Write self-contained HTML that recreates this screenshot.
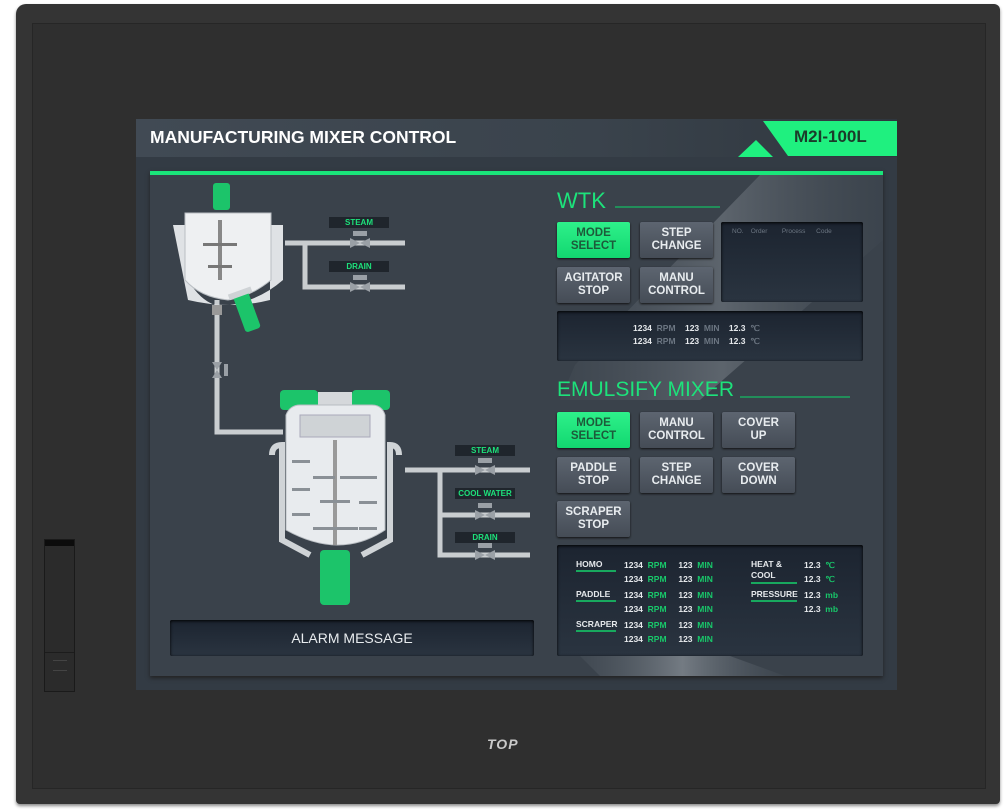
<!DOCTYPE html>
<html><head><meta charset="utf-8"><style>
body{margin:0;width:1008px;height:812px;background:#fff;position:relative;overflow:hidden;font-family:"Liberation Sans",sans-serif}
.a{position:absolute}
.btn{position:absolute;width:73px;height:36px;border-radius:2px;background:linear-gradient(#5d6570,#454c56);color:#e8ecef;font-size:11.5px;font-weight:bold;text-align:center;line-height:13px;display:flex;align-items:center;justify-content:center;box-shadow:0 1px 2px #111}
.btn.g{background:linear-gradient(#2ef08a,#12d870);color:#1d5a3a}
.box{position:absolute;background:linear-gradient(#1c2430,#2a3440);border-radius:2px;box-shadow:inset 0 1px 3px #000}
.t{position:absolute;font-size:8.5px;font-weight:bold;color:#e6e9ec;white-space:nowrap}
.gr{color:#18c86a}.dm{color:#6c7682}
.ul{position:absolute;height:2px;background:#18a85e}
.lab{position:absolute;background:#1f252c;color:#1de27b;font-size:8px;font-weight:bold;text-align:center;height:11px;line-height:11px}
</style></head><body>
<div class="a" style="left:16px;top:4px;width:984px;height:800px;background:#343434;border-radius:10px 6px 4px 4px;box-shadow:0 2px 3px #888"></div>
<div class="a" style="left:32px;top:23px;width:952px;height:764px;background:#2f2f2f;border:1px solid #262626"></div>
<div class="a" style="left:44px;top:539px;width:29px;height:151px;background:#2b2b2b;border:1px solid #1a1a1a"><div style="height:6px;background:#0c0c0c"></div><div style="position:absolute;top:112px;left:0;right:0;border-top:1px solid #1c1c1c"></div><div style="position:absolute;top:120px;left:8px;width:14px;border-top:1px solid #444"></div><div style="position:absolute;top:130px;left:8px;width:14px;border-top:1px solid #444"></div></div>
<div class="a" style="left:487px;top:736px;color:#c9c9c9;font-weight:bold;font-style:italic;font-size:14px;letter-spacing:1px">TOP</div>
<div class="a" style="left:136px;top:119px;width:761px;height:571px;background:#333b44"></div>
<div class="a" style="left:136px;top:119px;width:761px;height:38px;background:linear-gradient(90deg,#414a54,#3a434c 60%,#2f363e)"></div>
<div class="a" style="left:150px;top:127px;color:#fff;font-size:17.5px;font-weight:bold">MANUFACTURING MIXER CONTROL</div>
<svg class="a" style="left:0;top:0" width="1008" height="812">
<polygon points="763,121 897,121 897,156 788,156" fill="#1ff07f"/>
<polygon points="738,157 756,140 773,157" fill="#1ff07f"/>
</svg>
<div class="a" style="left:794px;top:127px;font-size:17px;font-weight:bold;color:#1b3b2a">M2I-100L</div>
<div class="a" style="left:150px;top:171px;width:733px;height:505px;background:#3a424b;box-shadow:0 2px 4px #222"></div>
<div class="a" style="left:150px;top:171px;width:733px;height:4px;background:#1ae57a"></div>
<svg class="a" style="left:0;top:0" width="1008" height="812">
<defs><linearGradient id="dg" x1="0" y1="0" x2="1" y2="0"><stop offset="0" stop-color="#5a636c" stop-opacity=".2"/><stop offset=".5" stop-color="#9aa1a8" stop-opacity=".6"/><stop offset="1" stop-color="#5a636c" stop-opacity=".1"/></linearGradient></defs>
<polygon points="760,175 883,175 883,240 700,400 560,400 575,365" fill="url(#dg)" opacity=".6"/>
<polygon points="580,656 730,656 785,676 600,676" fill="url(#dg)"/>
<g stroke="#c9cdd0" stroke-width="5" fill="none">
<path d="M285,243 H405"/><path d="M305,243 V287 H405"/>
<path d="M217,300 V432 H283"/>
<path d="M405,470 H530"/><path d="M440,470 V555 H530"/><path d="M440,515 H530"/>
</g>
<g fill="#9aa0a6">
<polygon points="350,238 370,248 370,238 350,248"/><rect x="353" y="231" width="14" height="5"/>
<polygon points="350,282 370,292 370,282 350,292"/><rect x="353" y="275" width="14" height="5"/>
<polygon points="475,465 495,475 495,465 475,475"/><rect x="478" y="458" width="14" height="5"/>
<polygon points="475,510 495,520 495,510 475,520"/><rect x="478" y="503" width="14" height="5"/>
<polygon points="475,550 495,560 495,550 475,560"/><rect x="478" y="543" width="14" height="5"/>
<polygon points="212,362 222,362 212,378 222,378"/><rect x="224" y="364" width="4" height="12"/>
</g>
<path d="M173,225 H188 V280 Q200,300 215,305 L230,305 Q260,300 283,280 V225 H270 V300 Q230,310 188,300 Z" fill="#dfe2e5"/>
<path d="M185,213 H271 V280 Q250,297 228,300 Q200,297 185,280 Z" fill="#eef0f2" stroke="#b9bec3"/>
<rect x="218" y="220" width="4" height="60" fill="#888"/>
<rect x="203" y="243" width="34" height="3" fill="#777"/><rect x="208" y="265" width="24" height="3" fill="#777"/>
<rect x="213" y="183" width="17" height="27" rx="3" fill="#1cc46a"/>
<rect x="212" y="305" width="10" height="10" fill="#999"/>
<g transform="rotate(-20 248 315)"><rect x="240" y="293" width="16" height="38" rx="3" fill="#1cc46a"/><rect x="236" y="289" width="24" height="6" fill="#cfd3d6"/></g>
<rect x="280" y="390" width="38" height="20" rx="4" fill="#1cc46a"/><rect x="352" y="390" width="38" height="20" rx="4" fill="#1cc46a"/>
<rect x="318" y="392" width="34" height="16" fill="#d5d8db"/>
<path d="M286,415 Q290,405 300,405 H372 Q382,405 385,415 V530 Q340,560 286,530 Z" fill="#e8ebee" stroke="#b8bdc2"/>
<rect x="300" y="415" width="70" height="22" fill="#cfd3d6" stroke="#aab"/>
<path d="M272,455 Q272,445 282,445 V540 L310,555" stroke="#d0d4d7" stroke-width="6" fill="none"/>
<path d="M399,455 Q399,445 390,445 V540 L362,555" stroke="#d0d4d7" stroke-width="6" fill="none"/>
<rect x="333" y="440" width="4" height="105" fill="#999"/>
<g fill="#8a9096"><rect x="292" y="460" width="18" height="3"/><rect x="292" y="488" width="18" height="3"/><rect x="292" y="513" width="18" height="3"/><rect x="313" y="476" width="22" height="3"/><rect x="340" y="476" width="20" height="3"/><rect x="359" y="476" width="18" height="3"/><rect x="320" y="500" width="30" height="3"/><rect x="359" y="501" width="18" height="3"/><rect x="313" y="527" width="45" height="3"/><rect x="359" y="527" width="18" height="3"/></g>
<rect x="320" y="550" width="30" height="55" rx="4" fill="#1cc46a"/>
<line x1="615" y1="207" x2="720" y2="207" stroke="#1aa860" stroke-width="1.5"/>
<line x1="740" y1="397" x2="850" y2="397" stroke="#1aa860" stroke-width="1.5"/>
</svg>
<div class="lab" style="left:329px;top:217px;width:60px">STEAM</div>
<div class="lab" style="left:329px;top:261px;width:60px">DRAIN</div>
<div class="lab" style="left:455px;top:445px;width:60px">STEAM</div>
<div class="lab" style="left:455px;top:488px;width:60px">COOL WATER</div>
<div class="lab" style="left:455px;top:532px;width:60px">DRAIN</div>
<div class="box" style="left:170px;top:620px;width:364px;height:36px;color:#e8ecef;font-size:14px;text-align:center;line-height:36px">ALARM MESSAGE</div>
<div class="a" style="left:557px;top:188px;color:#1de27b;font-size:22px">WTK</div>
<div class="a" style="left:557px;top:378px;color:#1de27b;font-size:21px">EMULSIFY MIXER</div>
<div class="btn g" style="left:557px;top:222px">MODE<br>SELECT</div>
<div class="btn" style="left:640px;top:222px">STEP<br>CHANGE</div>
<div class="btn" style="left:557px;top:267px">AGITATOR<br>STOP</div>
<div class="btn" style="left:640px;top:267px">MANU<br>CONTROL</div>
<div class="box" style="left:721px;top:222px;width:142px;height:80px"><div class="t dm" style="left:11px;top:6px;font-size:6.5px;font-weight:normal">NO.&nbsp;&nbsp;&nbsp;&nbsp;Order&nbsp;&nbsp;&nbsp;&nbsp;&nbsp;&nbsp;&nbsp;&nbsp;Process&nbsp;&nbsp;&nbsp;&nbsp;&nbsp;&nbsp;Code</div></div>
<div class="box" style="left:557px;top:311px;width:306px;height:50px">
<div class="t" style="left:76px;top:12px">1234 <span class="dm">&nbsp;RPM</span>&nbsp;&nbsp;&nbsp;&nbsp;123 <span class="dm">&nbsp;MIN</span>&nbsp;&nbsp;&nbsp;&nbsp;12.3 <span class="dm">&nbsp;℃</span></div>
<div class="t" style="left:76px;top:25px">1234 <span class="dm">&nbsp;RPM</span>&nbsp;&nbsp;&nbsp;&nbsp;123 <span class="dm">&nbsp;MIN</span>&nbsp;&nbsp;&nbsp;&nbsp;12.3 <span class="dm">&nbsp;℃</span></div></div>
<div class="btn g" style="left:557px;top:412px">MODE<br>SELECT</div>
<div class="btn" style="left:640px;top:412px">MANU<br>CONTROL</div>
<div class="btn" style="left:722px;top:412px">COVER<br>UP</div>
<div class="btn" style="left:557px;top:457px">PADDLE<br>STOP</div>
<div class="btn" style="left:640px;top:457px">STEP<br>CHANGE</div>
<div class="btn" style="left:722px;top:457px">COVER<br>DOWN</div>
<div class="btn" style="left:557px;top:501px">SCRAPER<br>STOP</div>
<div class="box" style="left:557px;top:545px;width:306px;height:111px"></div>
<div class="ul" style="left:576px;top:570px;width:40px"></div>
<div class="ul" style="left:576px;top:600px;width:40px"></div>
<div class="ul" style="left:576px;top:630px;width:40px"></div>
<div class="ul" style="left:751px;top:582px;width:46px"></div>
<div class="ul" style="left:751px;top:600px;width:46px"></div>
<div class="t" style="left:576px;top:559px">HOMO</div><div class="t" style="left:576px;top:589px">PADDLE</div><div class="t" style="left:576px;top:619px">SCRAPER</div>
<div class="t" style="left:624px;top:559px;line-height:13.5px">1234 <span class="gr">&nbsp;RPM</span>&nbsp;&nbsp;&nbsp;&nbsp;&nbsp;123 <span class="gr">&nbsp;MIN</span><br>1234 <span class="gr">&nbsp;RPM</span>&nbsp;&nbsp;&nbsp;&nbsp;&nbsp;123 <span class="gr">&nbsp;MIN</span></div>
<div class="t" style="left:624px;top:589px;line-height:13.5px">1234 <span class="gr">&nbsp;RPM</span>&nbsp;&nbsp;&nbsp;&nbsp;&nbsp;123 <span class="gr">&nbsp;MIN</span><br>1234 <span class="gr">&nbsp;RPM</span>&nbsp;&nbsp;&nbsp;&nbsp;&nbsp;123 <span class="gr">&nbsp;MIN</span></div>
<div class="t" style="left:624px;top:619px;line-height:13.5px">1234 <span class="gr">&nbsp;RPM</span>&nbsp;&nbsp;&nbsp;&nbsp;&nbsp;123 <span class="gr">&nbsp;MIN</span><br>1234 <span class="gr">&nbsp;RPM</span>&nbsp;&nbsp;&nbsp;&nbsp;&nbsp;123 <span class="gr">&nbsp;MIN</span></div>
<div class="t" style="left:751px;top:559px;line-height:11px">HEAT &amp;<br>COOL</div>
<div class="t" style="left:751px;top:589px">PRESSURE</div>
<div class="t" style="left:804px;top:559px;line-height:13.5px">12.3 <span class="gr">&nbsp;℃</span><br>12.3 <span class="gr">&nbsp;℃</span></div>
<div class="t" style="left:804px;top:589px;line-height:13.5px">12.3 <span class="gr">&nbsp;mb</span><br>12.3 <span class="gr">&nbsp;mb</span></div>
</body></html>
